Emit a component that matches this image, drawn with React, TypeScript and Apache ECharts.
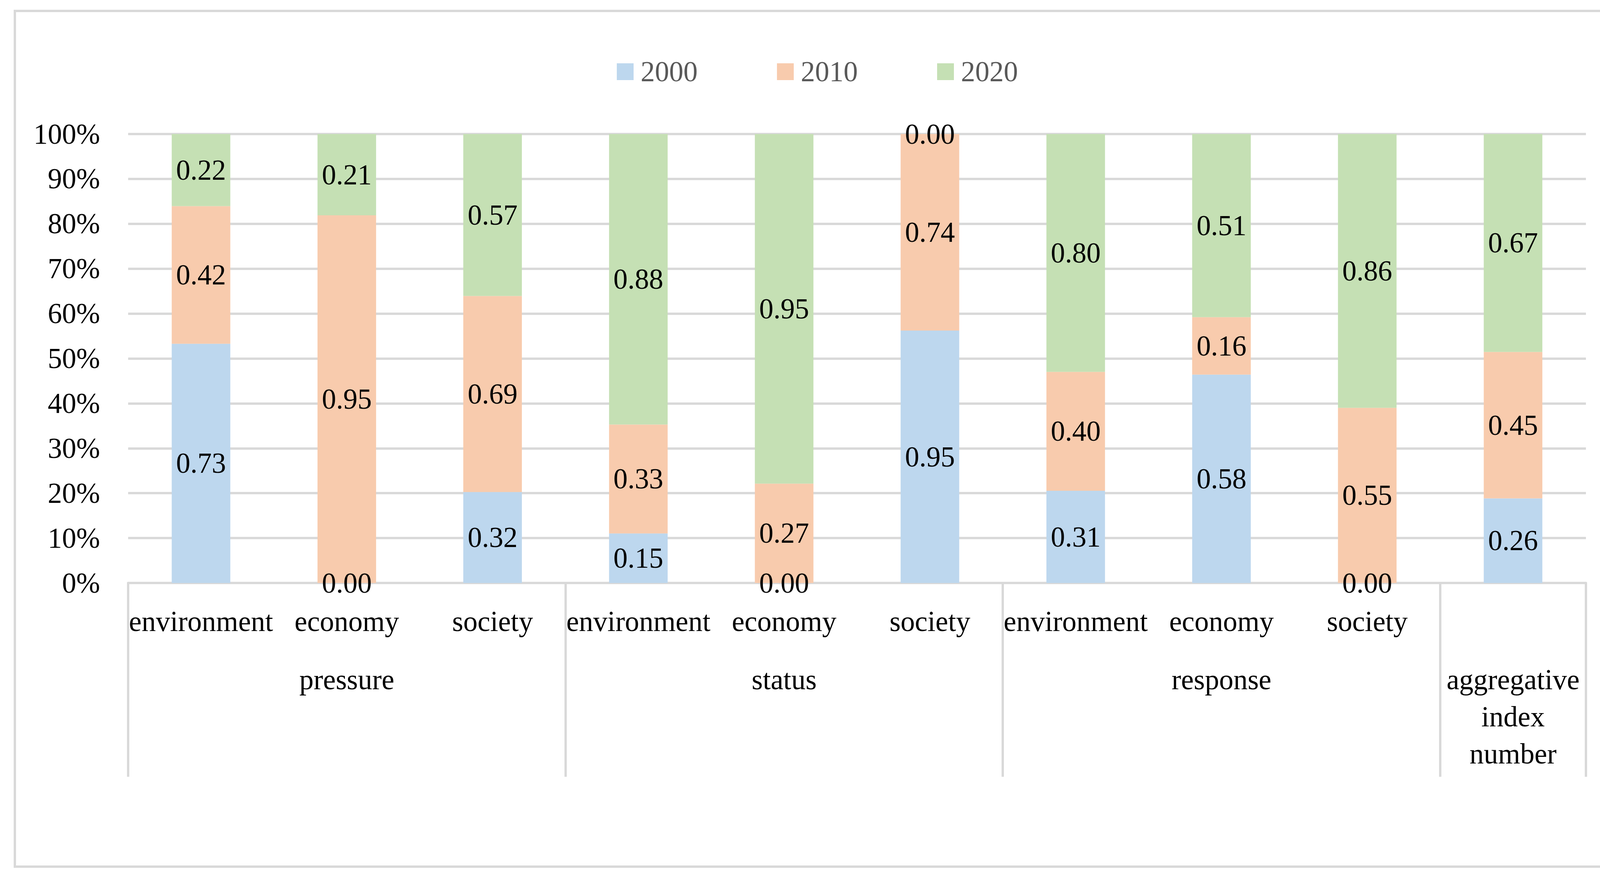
import React, { useEffect, useRef } from 'react';
import * as echarts from 'echarts';

// sub-indicator categories (first level of the x axis)
const categories = [
  'environment', 'economy', 'society',
  'environment', 'economy', 'society',
  'environment', 'economy', 'society',
  '',
];

// group labels (second level) and how many categories each spans
const groupNames = ['pressure', 'status', 'response', 'aggregative\nindex\nnumber'];
const groupSizes = [3, 3, 3, 1];

const years = ['2000', '2010', '2020'];
const colors = ['#BDD7EE', '#F8CBAD', '#C5E0B4'];

// raw index values shown on the bars
const values2000 = [0.73, 0.0, 0.32, 0.15, 0.0, 0.95, 0.31, 0.58, 0.0, 0.26];
const values2010 = [0.42, 0.95, 0.69, 0.33, 0.27, 0.74, 0.40, 0.16, 0.55, 0.45];
const values2020 = [0.22, 0.21, 0.57, 0.88, 0.95, 0.0, 0.80, 0.51, 0.86, 0.67];

const FONT = '"Liberation Serif", "Times New Roman", serif';
const FS = 73;
const GRID_LINE = '#D9D9D9';

const App: React.FC = () => {
  const chartRef = useRef<HTMLDivElement>(null);

  useEffect(() => {
    if (!chartRef.current) return;
    const chart = echarts.init(chartRef.current, undefined, { renderer: 'svg' });

    const raw = [values2000, values2010, values2020];
    const totals = categories.map((_, i) => raw.reduce((s, arr) => s + arr[i], 0));

    // group boundaries and centers on a 0..n value axis
    const bounds: number[] = [0];
    groupSizes.forEach(s => bounds.push(bounds[bounds.length - 1] + s));
    const centers = groupSizes.map((s, i) => bounds[i] + s / 2);

    const option: echarts.EChartsOption = {
      animation: false,
      backgroundColor: '#ffffff',
      textStyle: { fontFamily: FONT },
      graphic: [
        {
          type: 'rect',
          shape: { x: 38, y: 28, width: 4110, height: 2190 },
          style: { fill: 'none', stroke: GRID_LINE, lineWidth: 6 },
          silent: true,
        },
      ],
      legend: {
        data: years,
        left: 1579,
        top: 147,
        padding: 0,
        itemWidth: 43,
        itemHeight: 43,
        itemGap: 203,
        icon: 'rect',
        textStyle: {
          fontFamily: FONT,
          fontSize: FS,
          lineHeight: FS,
          color: '#595959',
          padding: [0, 0, 0, 13],
        },
      },
      grid: {
        left: 328,
        right: 127,
        top: 343,
        bottom: 773,
        outerBoundsMode: 'none',
      } as any,
      xAxis: [
        {
          type: 'category',
          data: categories,
          position: 'bottom',
          axisLine: { show: true, lineStyle: { color: GRID_LINE, width: 6 } },
          axisTick: { show: false },
          axisLabel: {
            interval: 0,
            margin: 51,
            fontFamily: FONT,
            fontSize: FS,
            lineHeight: 95,
            color: '#000000',
          },
        },
        {
          type: 'value',
          min: 0,
          max: bounds[bounds.length - 1],
          position: 'bottom',
          axisLine: { show: false },
          splitLine: { show: false },
          axisTick: {
            show: true,
            inside: false,
            length: 496,
            customValues: bounds,
            lineStyle: { color: GRID_LINE, width: 6 },
          },
          axisLabel: {
            show: true,
            customValues: centers,
            margin: 200,
            fontFamily: FONT,
            fontSize: FS,
            lineHeight: 95,
            color: '#000000',
            formatter: (v: number) => {
              const i = centers.findIndex(c => Math.abs(c - v) < 1e-6);
              return i >= 0 ? groupNames[i] : '';
            },
          },
        } as any,
      ],
      yAxis: {
        type: 'value',
        min: 0,
        max: 100,
        interval: 10,
        axisLine: { show: false },
        axisTick: { show: false },
        splitLine: { lineStyle: { color: GRID_LINE, width: 6 } },
        axisLabel: {
          margin: 72,
          fontFamily: FONT,
          fontSize: FS,
          color: '#000000',
          formatter: (v: number) => `${v}%`,
        },
      },
      series: years.map((y, si) => ({
        name: y,
        type: 'bar',
        stack: 'total',
        xAxisIndex: 0,
        barWidth: 150,
        itemStyle: { color: colors[si] },
        data: raw[si].map((v, i) => (totals[i] ? (v / totals[i]) * 100 : 0)),
        label: {
          show: true,
          position: 'inside',
          fontFamily: FONT,
          fontSize: FS,
          color: '#000000',
          formatter: (p: any) => raw[si][p.dataIndex].toFixed(2),
        },
        emphasis: { disabled: true },
      })),
    };

    chart.setOption(option);

    return () => {
      chart.dispose();
    };
  }, []);

  return (
    <div
      ref={chartRef}
      style={{ position: 'fixed', left: 0, top: 0, width: 4187, height: 2265 }}
    />
  );
};

export default App;
